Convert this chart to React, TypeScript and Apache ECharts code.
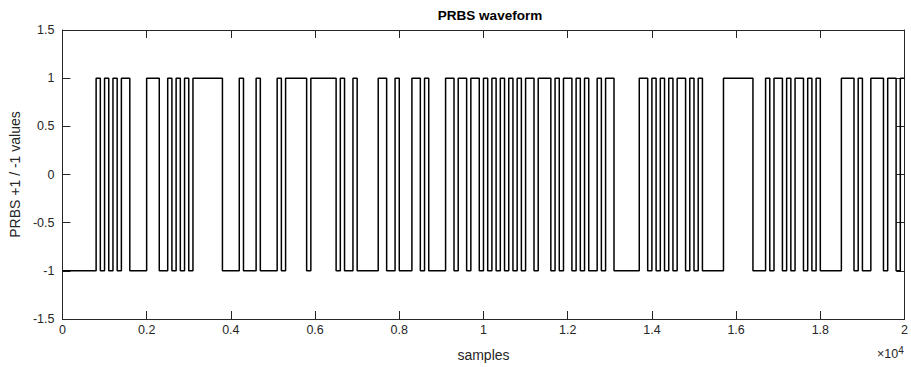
import React, { useEffect, useRef } from "react";
import * as echarts from "echarts";

// Sample indices at which the PRBS level toggles (starts at -1)
const switchSamples: number[] = [
  800, 900, 1000, 1100, 1200, 1300, 1400, 1600, 2000, 2300,
  2500, 2600, 2700, 2800, 2900, 3000, 3100, 3800, 4200, 4300,
  4600, 4700, 5100, 5200, 5300, 5800, 5900, 6500, 6600, 6700,
  6900, 7000, 7500, 7700, 7900, 8000, 8300, 8500,
  8600, 8700, 9100, 9300, 9400, 9600, 9700, 9900, 10000, 10100,
  10200, 10300, 10400, 10500, 10600, 10700, 10800, 10900, 11000, 11200,
  11300, 11600, 11700, 11800, 11900, 12100, 12200, 12300, 12400, 12500,
  12700, 12800, 12900, 13100, 13700, 13900, 14000, 14100, 14200, 14300,
  14400, 14500, 14600, 14800, 14900, 15000, 15100, 15200, 15700, 16400,
  16700, 16800, 16900, 17100, 17200, 17300, 17400, 17600, 17700, 17800,
  17900, 18000, 18500, 18800, 18900, 19000, 19200, 19500, 19600, 19800,
  19900,
];
const startLevel = -1;
const totalSamples = 20000;
const xTicks: number[] = [0, 2000, 4000, 6000, 8000, 10000, 12000, 14000, 16000, 18000, 20000];
const yTicks: number[] = [-1.5, -1, -0.5, 0, 0.5, 1, 1.5];

const titleText = "PRBS waveform";
const xLabel = "samples";
const yLabel = "PRBS +1 / -1 values";

function buildPoints(): number[][] {
  const pts: number[][] = [[0, startLevel]];
  let level = startLevel;
  for (const s of switchSamples) {
    pts.push([s, level]);
    level = -level;
    pts.push([s, level]);
  }
  pts.push([totalSamples, level]);
  return pts;
}

export default function App() {
  const ref = useRef<HTMLDivElement>(null);
  useEffect(() => {
    if (!ref.current) return;
    const chart = echarts.init(ref.current, undefined, { renderer: "svg" });
    const font = "Liberation Sans, Arial, Helvetica, sans-serif";
    const axisColor = "#262626";
    const line = { show: true, onZero: false, lineStyle: { color: axisColor, width: 1 } };
    const tick = { show: true, inside: true, length: 8, lineStyle: { color: axisColor, width: 1 } };
    chart.setOption({
      animation: false,
      backgroundColor: "#ffffff",
      title: {
        text: titleText,
        left: 485,
        top: 3,
        textAlign: "center",
        textStyle: { fontFamily: font, fontSize: 13.5, fontWeight: "bold", color: "#000" },
      },
      grid: { left: 61, right: 2, top: 30, bottom: 47 },
      xAxis: [
        {
          type: "value",
          min: 0,
          max: totalSamples,
          interval: xTicks[1] - xTicks[0],
          axisLine: line,
          splitLine: { show: false },
          axisTick: tick,
          axisLabel: {
            show: true,
            color: axisColor,
            fontFamily: font,
            fontSize: 12.5,
            margin: 4,
            formatter: (v: number) => String(v / 10000),
          },
          name: xLabel,
          nameLocation: "middle",
          nameGap: 29,
          nameTextStyle: { fontFamily: font, fontSize: 14, color: axisColor },
        },
        {
          type: "value",
          position: "top",
          min: 0,
          max: totalSamples,
          interval: xTicks[1] - xTicks[0],
          axisLine: line,
          splitLine: { show: false },
          axisTick: tick,
          axisLabel: { show: false },
        },
      ],
      yAxis: [
        {
          type: "value",
          min: yTicks[0],
          max: yTicks[yTicks.length - 1],
          interval: 0.5,
          axisLine: line,
          splitLine: { show: false },
          axisTick: tick,
          axisLabel: { show: true, color: axisColor, fontFamily: font, fontSize: 12.5, margin: 8 },
          name: yLabel,
          nameLocation: "middle",
          nameGap: 39,
          nameTextStyle: { fontFamily: font, fontSize: 14, color: axisColor },
        },
        {
          type: "value",
          position: "right",
          min: yTicks[0],
          max: yTicks[yTicks.length - 1],
          interval: 0.5,
          axisLine: line,
          splitLine: { show: false },
          axisTick: tick,
          axisLabel: { show: false },
        },
      ],
      graphic: [
        {
          type: "text",
          left: 877,
          top: 345,
          style: {
            text: "×10{s|4}",
            rich: { s: { fontSize: 10, verticalAlign: "top", padding: [0, 0, 7, 0], fontFamily: font, fill: axisColor } },
            fontFamily: font,
            fontSize: 12.5,
            fill: axisColor,
          },
        },
      ],
      series: [
        {
          type: "line",
          data: buildPoints(),
          showSymbol: false,
          symbol: "none",
          lineStyle: { color: "#000000", width: 1.5 },
          xAxisIndex: 0,
          yAxisIndex: 0,
        },
      ],
    });
    return () => chart.dispose();
  }, []);
  return <div ref={ref} style={{ width: 911, height: 367, position: "absolute", left: 0, top: 0 }} />;
}
